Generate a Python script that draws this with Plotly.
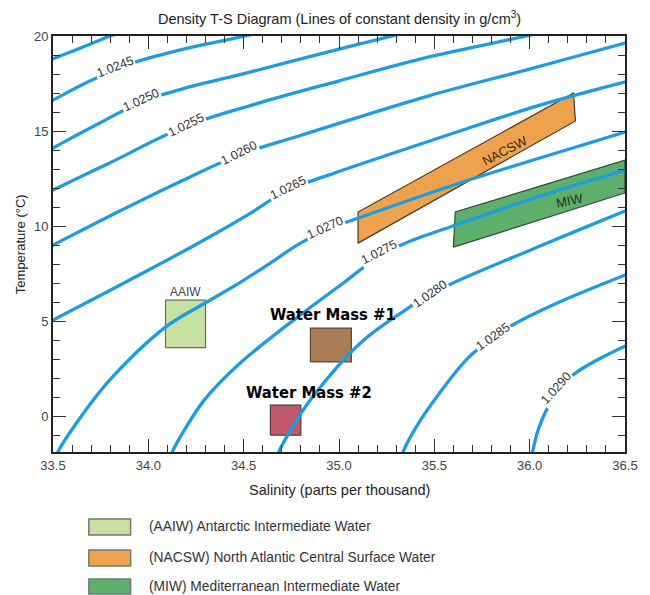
import plotly.graph_objects as go

# ---------------- data ----------------
density_labels = ["1.0240", "1.0245", "1.0250", "1.0255", "1.0260", "1.0265",
                  "1.0270", "1.0275", "1.0280", "1.0285", "1.0290"]

S_1_0240 = [33.45, 33.50, 33.64, 33.80, 33.86]
T_1_0240 = [18.60, 18.80, 19.35, 20.00, 20.20]

S_1_0245 = [33.458, 33.50, 33.693, 33.902, 34.163, 34.507, 34.59]
T_1_0245 = [16.42, 16.63, 17.63, 18.53, 19.26, 20.00, 20.21]

S_1_0250 = [33.458, 33.50, 33.745, 33.964, 34.215, 34.476, 34.898, 35.279, 35.363]
T_1_0250 = [13.89, 14.11, 15.42, 16.53, 17.32, 17.95, 19.05, 20.00, 20.21]

S_1_0255 = [33.458, 33.50, 33.797, 34.199, 34.580, 34.997, 35.467, 35.983, 36.067]
T_1_0255 = [11.68, 11.89, 13.32, 15.26, 16.47, 17.63, 18.89, 20.00, 20.21]

S_1_0260 = [33.458, 33.50, 33.850, 34.163, 34.476, 34.789, 35.467, 35.999, 36.50, 36.563]
T_1_0260 = [8.79, 9.00, 10.79, 12.32, 13.74, 14.74, 16.84, 18.26, 19.63, 19.79]

S_1_0265 = [33.458, 33.50, 33.902, 34.283, 34.528, 34.731, 34.945, 35.571, 36.041, 36.50, 36.563]
T_1_0265 = [4.84, 5.05, 7.16, 9.21, 10.63, 11.89, 12.68, 14.79, 16.32, 17.58, 17.74]

S_1_0270 = [33.516, 33.526, 33.641, 33.797, 34.090, 34.298, 34.476, 34.632, 34.789, 34.945, 35.102, 35.650, 36.50, 36.563]
T_1_0270 = [-2.32, -1.89, -0.11, 1.89, 4.68, 5.95, 7.00, 8.00, 9.05, 9.84, 10.42, 12.32, 14.95, 15.16]

S_1_0275 = [34.116, 34.126, 34.189, 34.293, 34.476, 34.789, 35.023, 35.211, 35.363, 35.597, 36.041, 36.50, 36.563]
T_1_0275 = [-2.32, -1.89, -0.74, 0.84, 2.74, 5.26, 7.00, 8.42, 9.16, 10.00, 11.53, 12.95, 13.16]

S_1_0280 = [34.674, 34.684, 34.763, 34.857, 35.117, 35.363, 35.477, 35.587, 36.130, 36.50, 36.563]
T_1_0280 = [-2.32, -1.89, -0.47, 0.95, 3.89, 5.68, 6.37, 6.95, 9.26, 10.79, 11.05]

S_1_0285 = [35.326, 35.336, 35.389, 35.493, 35.676, 35.806, 35.910, 36.145, 36.50, 36.563]
T_1_0285 = [-2.32, -1.89, -0.84, 0.74, 3.05, 4.11, 4.79, 5.95, 7.42, 7.68]

S_1_0290 = [36.004, 36.015, 36.041, 36.083, 36.145, 36.234, 36.354, 36.50, 36.563]
T_1_0290 = [-2.32, -1.89, -0.84, 0.21, 1.26, 2.21, 2.95, 3.68, 3.95]

contour_S = [S_1_0240, S_1_0245, S_1_0250, S_1_0255, S_1_0260, S_1_0265,
             S_1_0270, S_1_0275, S_1_0280, S_1_0285, S_1_0290]
contour_T = [T_1_0240, T_1_0245, T_1_0250, T_1_0255, T_1_0260, T_1_0265,
             T_1_0270, T_1_0275, T_1_0280, T_1_0285, T_1_0290]

# label positions (salinity, temperature, angle) for labelled contours
label_text = ["1.0245", "1.0250", "1.0255", "1.0260", "1.0265",
              "1.0270", "1.0275", "1.0280", "1.0285", "1.0290"]
label_S = [33.823, 33.964, 34.199, 34.476, 34.731, 34.924, 35.211, 35.477, 35.806, 36.140]
label_T = [18.37, 16.63, 15.32, 13.84, 12.00, 9.90, 8.63, 6.42, 4.16, 1.47]
label_angle = [-21, -25, -26, -27, -26, -24, -28, -35, -35, -48]

# water mass regions
AAIW_S = [34.09, 34.30, 34.30, 34.09]
AAIW_T = [3.60, 3.60, 6.10, 6.10]
NACSW_S = [35.10, 35.10, 36.23, 36.24]
NACSW_T = [9.10, 10.74, 17.00, 15.53]
MIW_S = [35.60, 35.61, 36.50, 36.50]
MIW_T = [8.89, 10.74, 13.47, 11.74]
WM1_S = [34.85, 35.065, 35.065, 34.85]
WM1_T = [2.85, 2.85, 4.63, 4.63]
WM2_S = [34.64, 34.80, 34.80, 34.64]
WM2_T = [-1.00, -1.00, 0.58, 0.58]

x_ticks = [33.5, 34.0, 34.5, 35.0, 35.5, 36.0, 36.5]
x_ticktext = ["33.5", "34.0", "34.5", "35.0", "35.5", "36.0", "36.5"]
y_ticks = [0, 5, 10, 15, 20]
y_ticktext = ["0", "5", "10", "15", "20"]

legend_names = ["(AAIW) Antarctic Intermediate Water",
                "(NACSW) North Atlantic Central Surface Water",
                "(MIW) Mediterranean Intermediate Water"]

# ---------------- styles ----------------
FONT = "Liberation Sans, Arial, Helvetica, sans-serif"
BOLD_FONT = "DejaVu Sans Condensed, DejaVu Sans, sans-serif"
BLUE = "#1d9be3"
C_AAIW = "#c7e1a3"
C_NACSW = "#efa24d"
C_MIW = "#5daf6b"
C_WM1 = "#a87d55"
C_WM2 = "#c05a6b"

fig = go.Figure()

def poly(xs, ys, fill, edge):
    fig.add_trace(go.Scatter(x=xs + xs[:1], y=ys + ys[:1], mode="lines",
                             fill="toself", fillcolor=fill,
                             line=dict(color=edge, width=1.2),
                             hoverinfo="skip", showlegend=False))

poly(AAIW_S, AAIW_T, C_AAIW, "#6b6b5a")
poly(NACSW_S, NACSW_T, C_NACSW, "#4a3a22")
poly(MIW_S, MIW_T, C_MIW, "#2f4a33")
poly(WM1_S, WM1_T, C_WM1, "#5a4a3a")
poly(WM2_S, WM2_T, C_WM2, "#5a3a3a")

for name, xs, ys in zip(density_labels, contour_S, contour_T):
    fig.add_trace(go.Scatter(x=xs, y=ys, mode="lines", name=name,
                             line=dict(color=BLUE, width=3.3, shape="spline", smoothing=1.0),
                             hoverinfo="skip", showlegend=False))

def note(x, y, text, size, color, ref="data", angle=0, family=FONT, xanchor="center", bg=None):
    d = dict(x=x, y=y, xref="x" if ref == "data" else "paper",
             yref="y" if ref == "data" else "paper", text=text, showarrow=False,
             textangle=angle, xanchor=xanchor, yanchor="middle",
             font=dict(family=family, size=size, color=color))
    if bg:
        d["bgcolor"] = bg
        d["borderpad"] = 1
    return d

ann = []
for t, sx, ty, ang in zip(label_text, label_S, label_T, label_angle):
    ann.append(note(sx, ty, t, 12.5, "#333", angle=ang, bg="white"))

ann += [
    note(34.195, 6.55, "AAIW", 12, "#444"),
    note(35.87, 14.0, "NACSW", 13, "#3a2a12", angle=-28),
    note(36.21, 11.35, "MIW", 13, "#1c3320", angle=-12),
    note(34.971, 5.37, "<b>Water Mass #1</b>", 16.5, "black", family=BOLD_FONT),
    note(34.841, 1.26, "<b>Water Mass #2</b>", 16.5, "black", family=BOLD_FONT),
    note(0.5, 1.043, "Density T-S Diagram (Lines of constant density in g/cm<sup>3</sup>)",
         14.5, "#222", ref="paper"),
    note(0.5, -0.0913, "Salinity (parts per thousand)", 14.5, "#222", ref="paper"),
    note(-0.0574, 0.5, "Temperature (°C)", 13, "#222", ref="paper", angle=-90),
]

shapes = []
sw_colors = [C_AAIW, C_NACSW, C_MIW]
sw_y = [(-0.161, -0.1995), (-0.2356, -0.274), (-0.3053, -0.3413)]
for col, (y0, y1), nm in zip(sw_colors, sw_y, legend_names):
    shapes.append(dict(type="rect", xref="paper", yref="paper", x0=0.0626, x1=0.1357,
                       y0=y1, y1=y0, fillcolor=col, line=dict(color="#777", width=1.5)))
    ann.append(note(0.1652, (y0 + y1) / 2, nm, 13.8, "#333", ref="paper", xanchor="left"))

fig.update_layout(
    width=650, height=595, autosize=False,
    margin=dict(l=53, r=22, t=36, b=143),
    paper_bgcolor="white", plot_bgcolor="white",
    annotations=ann, shapes=shapes, showlegend=False,
    xaxis=dict(range=[33.5, 36.5], tickmode="array", tickvals=x_ticks, ticktext=x_ticktext,
               ticks="inside", ticklen=13, tickwidth=1.4, tickcolor="#333",
               showline=True, linecolor="#222", linewidth=2, mirror="ticks",
               showgrid=False, zeroline=False,
               tickfont=dict(family=FONT, size=13, color="#444"),
               minor=dict(tick0=33.5, dtick=0.1, ticks="inside", ticklen=7,
                          tickwidth=1.2, tickcolor="#333", showgrid=False)),
    yaxis=dict(range=[-1.89, 20], tickmode="array", tickvals=y_ticks, ticktext=y_ticktext,
               ticks="inside", ticklen=13, tickwidth=1.4, tickcolor="#333",
               showline=True, linecolor="#222", linewidth=2, mirror="ticks",
               showgrid=False, zeroline=False,
               tickfont=dict(family=FONT, size=13, color="#444"),
               minor=dict(tick0=0, dtick=1, ticks="inside", ticklen=7,
                          tickwidth=1.2, tickcolor="#333", showgrid=False)),
)

fig.write_html("out.html", config={"displayModeBar": False},
               post_script="document.body.style.margin='0px';")
